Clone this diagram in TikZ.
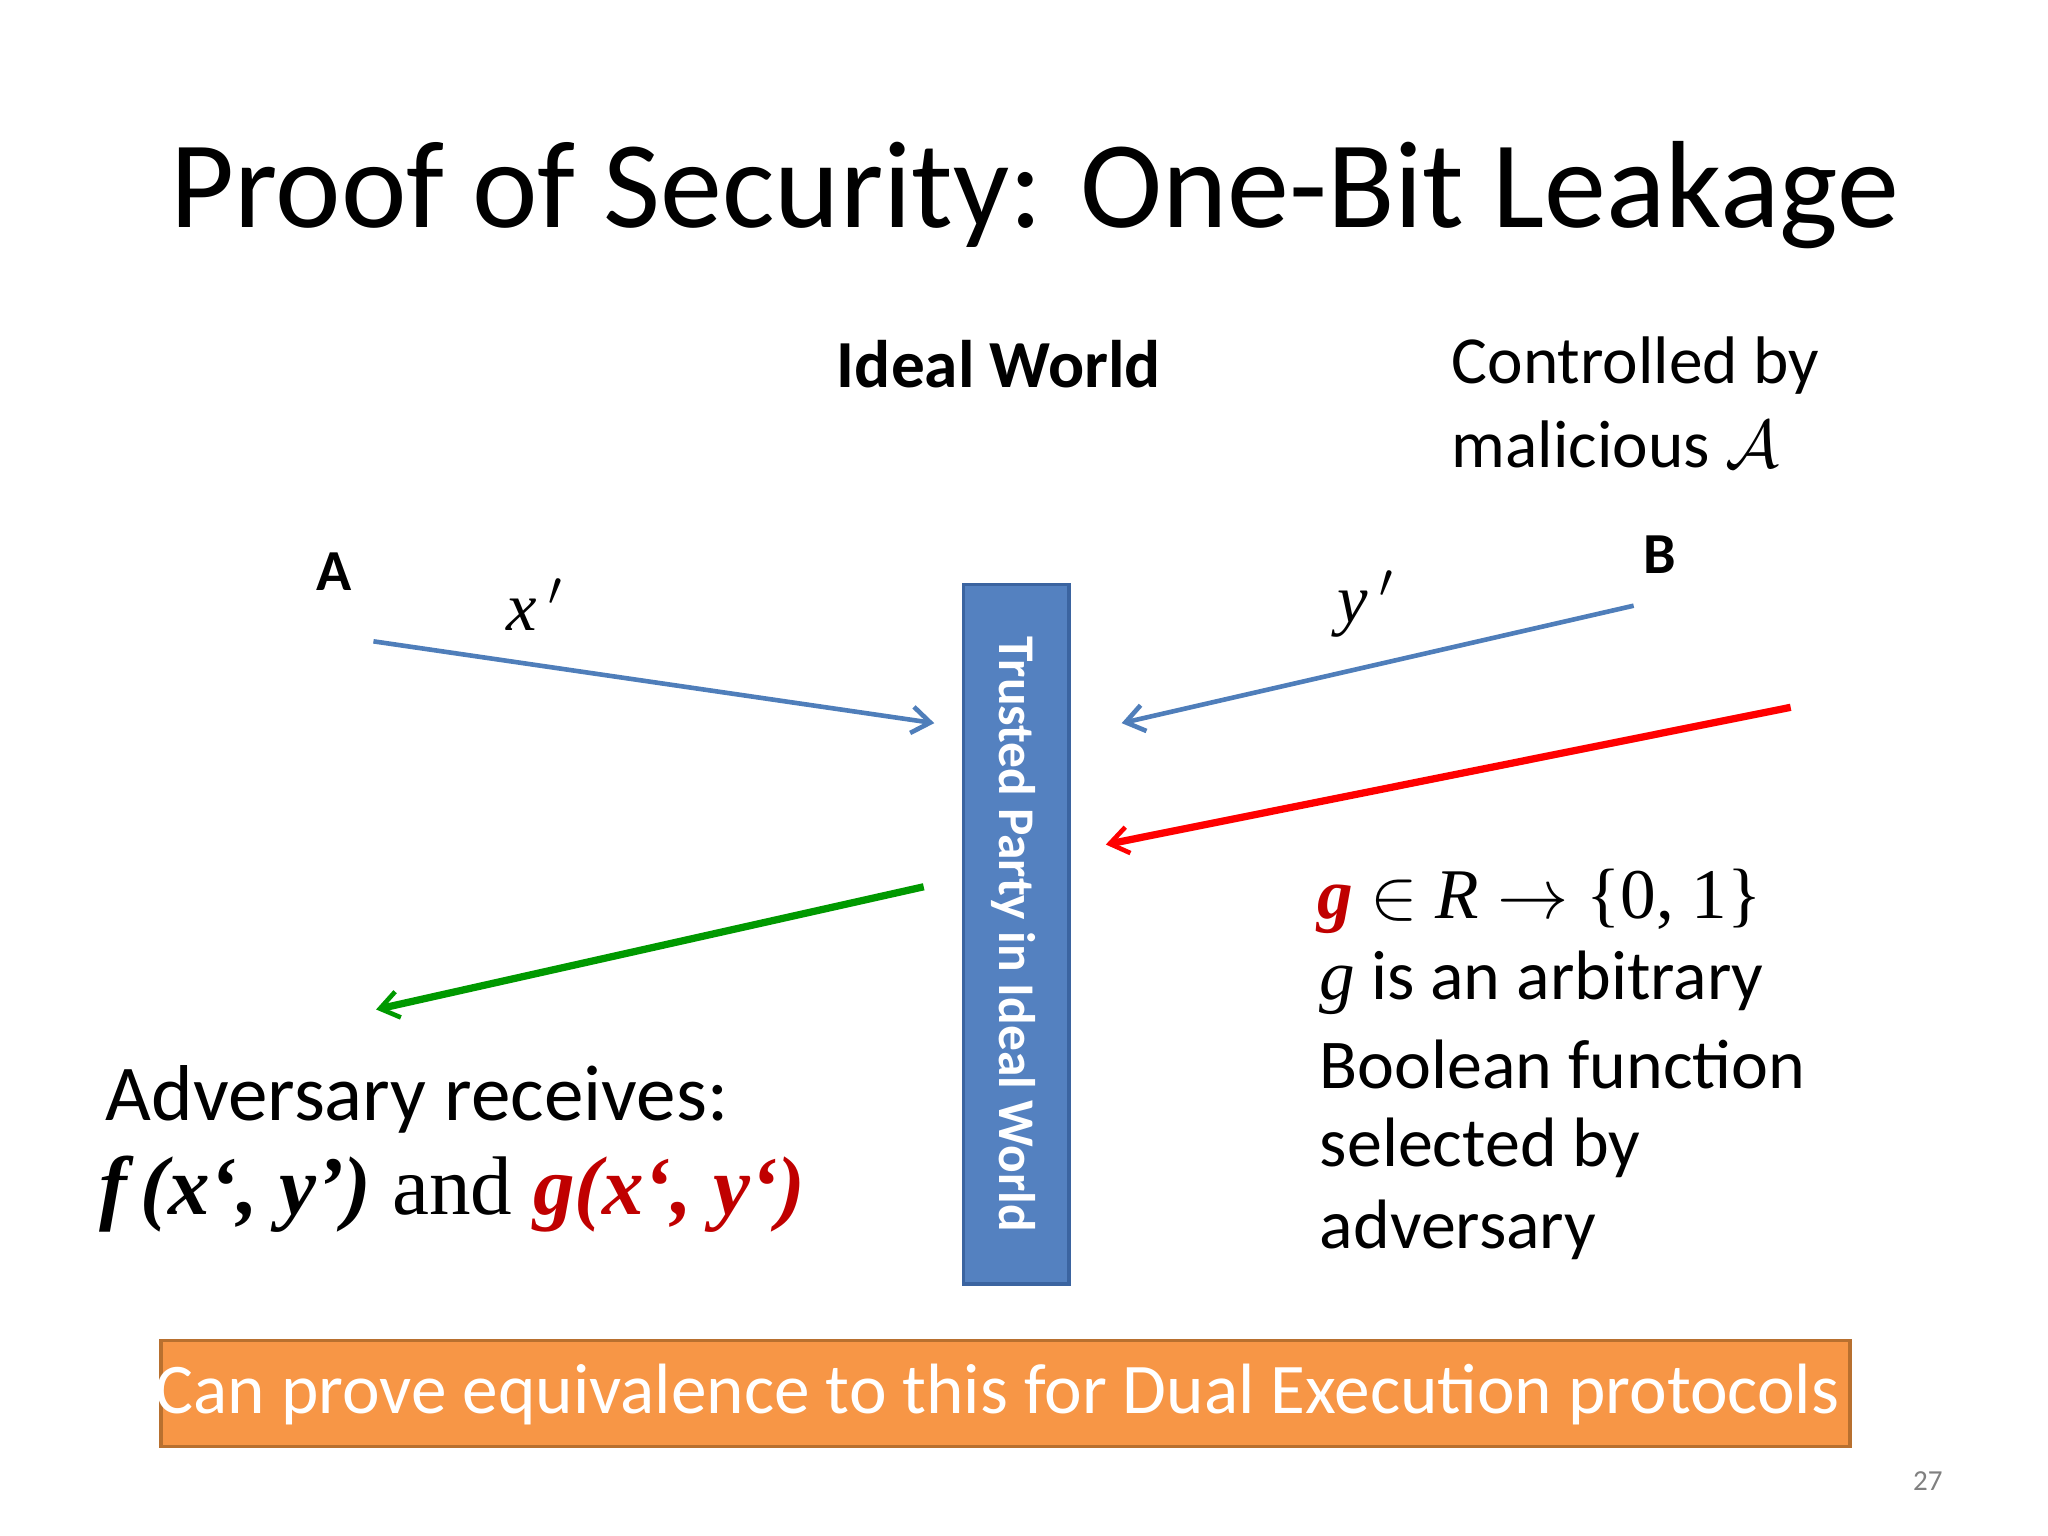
\RequirePackage{fix-cm}
\documentclass[tikz,border=0pt]{standalone}
\usepackage{fontspec}
\setmainfont{Carlito}
\newfontfamily\tnr{Liberation Serif}
\usetikzlibrary{arrows.meta}
\definecolor{tpblue}{HTML}{5481C0}
\definecolor{tpedge}{HTML}{3B64A0}
\definecolor{arrblue}{HTML}{4F7EBA}
\definecolor{orng}{HTML}{F79646}
\definecolor{orngedge}{HTML}{B8702F}
\definecolor{dred}{HTML}{C00000}
\tikzset{
 txt/.style={inner sep=0pt,font=\fontsize{53}{60}\selectfont},
 flow/.style={line width=3.5pt,-{Straight Barb[length=14pt,width=20pt,line width=3.5pt]}},
}
\begin{document}
\begin{tikzpicture}[x=1pt,y=-1pt]
\useasboundingbox (0,0) rectangle (1552,1164);
\node[inner sep=0pt,font=\fontsize{94}{100}\selectfont] (title) at (784,148) {Proof of Security: One-Bit Leakage};
\node[txt,font=\fontsize{51}{58}\selectfont\bfseries] (iw) at (757,276) {Ideal World};
\node[txt,anchor=west,font=\fontsize{51}{58}\selectfont] (c1) at (1100,277) {Controlled by};
\node[txt,anchor=west,font=\fontsize{51}{58}\selectfont] (c2) at (1100,337) {malicious $\mathcal{A}$};
\node[txt,font=\fontsize{44}{48}\selectfont\bfseries] (A) at (253,433) {A};
\node[txt,font=\fontsize{44}{48}\selectfont\bfseries] (B) at (1258,420) {B};
\node[txt,font=\fontsize{52}{56}\selectfont\tnr\itshape] (xp) at (405,458) {x\,$'$};
\node[txt,font=\fontsize{52}{56}\selectfont\tnr\itshape] (yp) at (1035,458) {y\,$'$};
\node[draw=tpedge,line width=2.5pt,fill=tpblue,minimum width=80pt,minimum height=530pt,inner sep=0pt] (tp) at (770,708) {};
\node[rotate=-90,text=white,inner sep=0pt,font=\fontsize{39}{44}\selectfont\bfseries] (tpt) at (768,708) {Trusted Party in Ideal World};
\coordinate (a1) at (283,486); \coordinate (a2) at (708,548);
\coordinate (b1) at (1238,459); \coordinate (b2) at (850,548);
\coordinate (r1) at (1357,536); \coordinate (r2) at (838,640);
\coordinate (g1) at (700,672); \coordinate (g2) at (285,765);
\draw[flow,arrblue] (a1) -- (a2);
\draw[flow,arrblue] (b1) -- (b2);
\draw[flow,red,line width=5.5pt] (r1) -- (r2);
\draw[flow,green!60!black,line width=5.5pt] (g1) -- (g2);
\node[txt,anchor=west,font=\fontsize{60}{66}\selectfont] (adv) at (80,833) {Adversary receives:};
\node[txt,anchor=west,font=\fontsize{63}{68}\selectfont\tnr] (fx) at (75,905) {\textbf{\textit{f\,(x‘, y’)}} and \textcolor{dred}{\textbf{\textit{g(x‘, y‘)}}}};
\node[txt,anchor=west,font=\fontsize{54}{60}\selectfont\tnr] (gr) at (998,683) {\textcolor{dred}{\textbf{\textit{g}}} $\in$ \textit{R} $\rightarrow$ \{0, 1\}};
\node[txt,anchor=west] (l1) at (1000,745) {{\tnr\itshape\fontsize{54}{60}\selectfont g} is an arbitrary};
\node[txt,anchor=west] (l2) at (1000,807) {Boolean function};
\node[txt,anchor=west] (l3) at (1000,870) {selected by};
\node[txt,anchor=west] (l4) at (1000,932) {adversary};
\node[draw=orngedge,line width=2.5pt,fill=orng,minimum width=1280pt,minimum height=80pt,inner sep=0pt] (box) at (762,1056) {};
\node[txt,text=white,font=\fontsize{54}{60}\selectfont] (boxt) at (756,1057) {Can prove equivalence to this for Dual Execution protocols};
\node[inner sep=0pt,text=gray,font=\fontsize{22}{24}\selectfont] (pg) at (1461,1122) {27};
\end{tikzpicture}
\end{document}
